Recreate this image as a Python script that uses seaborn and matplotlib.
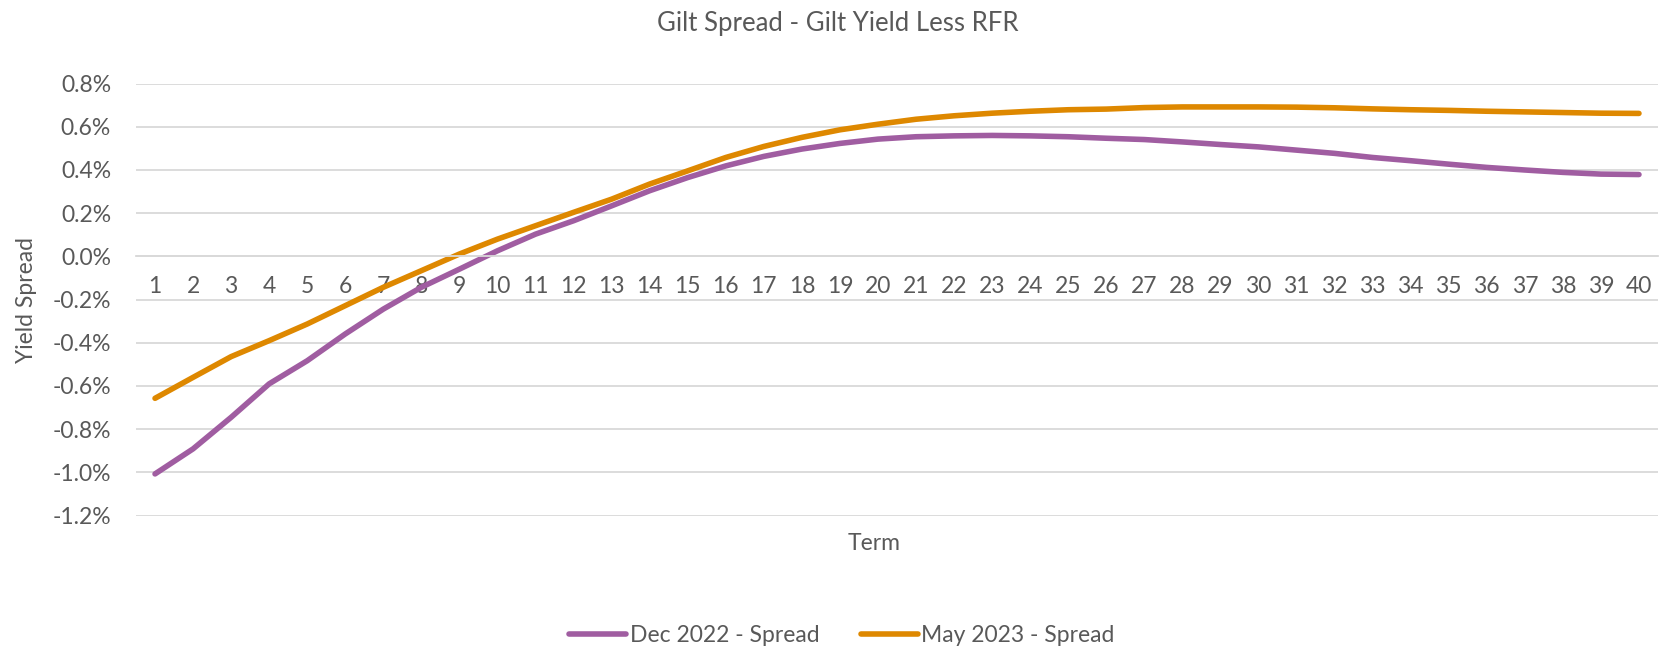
import numpy as np
import pandas as pd
import matplotlib
matplotlib.use('Agg')
import matplotlib.pyplot as plt
import seaborn as sns
from matplotlib.ticker import FuncFormatter

# 数据（单位：%）
term = list(range(1, 41))
dec_2022 = [-1.007, -0.891, -0.745, -0.590, -0.483, -0.359, -0.244, -0.143, -0.059, 0.026,
            0.103, 0.165, 0.234, 0.304, 0.365, 0.419, 0.463, 0.497, 0.523, 0.543,
            0.554, 0.558, 0.560, 0.558, 0.554, 0.547, 0.541, 0.530, 0.518, 0.507,
            0.492, 0.477, 0.458, 0.443, 0.427, 0.412, 0.400, 0.389, 0.381, 0.379]
may_2023 = [-0.657, -0.560, -0.464, -0.390, -0.313, -0.228, -0.143, -0.066, 0.011, 0.080,
            0.142, 0.204, 0.265, 0.335, 0.396, 0.458, 0.509, 0.551, 0.586, 0.612,
            0.635, 0.651, 0.663, 0.672, 0.679, 0.682, 0.689, 0.692, 0.692, 0.692,
            0.691, 0.688, 0.683, 0.679, 0.676, 0.672, 0.669, 0.666, 0.663, 0.662]
series_names = ['Dec 2022 - Spread', 'May 2023 - Spread']
colors = ['#A05DA1', '#DE8800']
y_ticks = [-1.2, -1.0, -0.8, -0.6, -0.4, -0.2, 0.0, 0.2, 0.4, 0.6, 0.8]

df = pd.concat([
    pd.DataFrame({'Term': term, 'Spread': dec_2022, 'Series': series_names[0]}),
    pd.DataFrame({'Term': term, 'Spread': may_2023, 'Series': series_names[1]}),
])

sns.set_theme(style='white')
plt.rcParams['font.family'] = ['Lato', 'DejaVu Sans']
plt.rcParams['axes.unicode_minus'] = False
text_color = '#595959'
lw = 4.0

fig = plt.figure(figsize=(16.6, 6.51), dpi=100)
ax = fig.add_axes([136 / 1660, 1 - 515.6 / 651, 1522 / 1660, 432 / 651])

sns.lineplot(data=df, x='Term', y='Spread', hue='Series', palette=dict(zip(series_names, colors)),
             linewidth=lw, ax=ax, legend=False, solid_capstyle='round')

ax.set_xlim(0.5, 40.5)
ax.set_ylim(-1.2, 0.8)
ax.set_yticks(y_ticks)
ax.yaxis.set_major_formatter(FuncFormatter(lambda v, p: f'{round(v, 1) + 0.0:.1f}%'))
ax.set_xticks(term)
ax.set_xticklabels([str(t) for t in term])
ax.grid(axis='y', color='#D9D9D9', linewidth=1.3)
ax.set_axisbelow(True)
for s in ['top', 'right', 'left']:
    ax.spines[s].set_visible(False)
ax.spines['bottom'].set_position(('data', 0))
ax.spines['bottom'].set_color('#D9D9D9')
ax.spines['bottom'].set_linewidth(1.3)
ax.tick_params(axis='both', length=0, labelsize=16.5, colors=text_color)
ax.tick_params(axis='x', pad=14)
ax.tick_params(axis='y', pad=18)

ax.set_xlabel('Term', fontsize=16.5, color=text_color, va='center')
ax.xaxis.set_label_coords((874 - 136) / 1522, -(543 - 515.6) / 432)
ax.set_ylabel('Yield Spread', fontsize=16.5, color=text_color, va='center')
ax.yaxis.set_label_coords(-(136 - 26) / 1522, 0.5)

fig.text(838 / 1660, 1 - 23 / 651, 'Gilt Spread - Gilt Yield Less RFR', fontsize=18.5,
         color=text_color, ha='center', va='center')

handles = [plt.Line2D([], [], color=c, linewidth=lw, solid_capstyle='round') for c in colors]
fig.legend(handles, series_names, loc='center', bbox_to_anchor=(842 / 1660, 1 - 636 / 651),
           ncol=2, frameon=False, fontsize=16.5, handlelength=2.5, handletextpad=0.15,
           columnspacing=1.8, labelcolor=text_color)

fig.savefig('out.png', dpi=100)
